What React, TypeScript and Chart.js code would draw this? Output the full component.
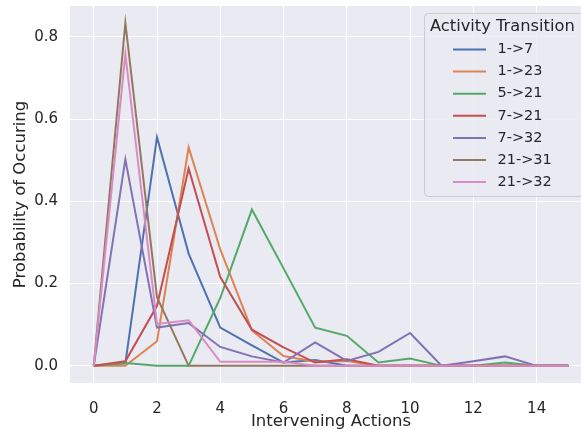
import React, { useEffect, useRef } from "react";
import { Chart, registerables } from "chart.js";

Chart.register(...registerables);

const actions = [0, 1, 2, 3, 4, 5, 6, 7, 8, 9, 10, 11, 12, 13, 14, 15];
const xTicks = [0, 2, 4, 6, 8, 10, 12, 14];
const yTicks = [0, 0.2, 0.4, 0.6, 0.8];

const seriesNames = ["1->7", "1->23", "5->21", "7->21", "7->32", "21->31", "21->32"];
const seriesColors = ["#4C72B0", "#DD8452", "#55A868", "#C44E52", "#8172B3", "#937860", "#DA8BC3"];

const s1to7 = [0, 0.006, 0.556, 0.273, 0.093, 0.05, 0.008, 0.014, 0, 0, 0, 0, 0, 0, 0, 0];
const s1to23 = [0, 0, 0.06, 0.531, 0.283, 0.086, 0.024, 0.01, 0.012, 0, 0, 0, 0, 0, 0, 0];
const s5to21 = [0, 0.007, 0, 0, 0.165, 0.38, 0.237, 0.093, 0.073, 0.008, 0.018, 0, 0, 0.008, 0, 0];
const s7to21 = [0, 0.011, 0.146, 0.48, 0.216, 0.088, 0.045, 0.008, 0.016, 0, 0, 0, 0, 0, 0, 0];
const s7to32 = [0, 0.502, 0.093, 0.104, 0.046, 0.023, 0.008, 0.057, 0.012, 0.034, 0.08, 0, 0.011, 0.023, 0, 0];
const s21to31 = [0, 0.834, 0.167, 0, 0, 0, 0, 0, 0, 0, 0, 0, 0, 0, 0, 0];
const s21to32 = [0, 0.758, 0.102, 0.111, 0.01, 0.01, 0.01, 0, 0, 0, 0, 0, 0, 0, 0, 0];

const allSeries = [s1to7, s1to23, s5to21, s7to21, s7to32, s21to31, s21to32];

const FONT = "'DejaVu Sans', sans-serif";
const TEXT = "#262626";

const legendPlugin = {
  id: "seabornLegend",
  afterDraw(chart: any) {
    const ctx = chart.ctx;
    ctx.save();
    const bx = 424.5, by = 13.5, bw = 162, bh = 183, r = 4;
    ctx.beginPath();
    ctx.moveTo(bx + r, by);
    ctx.lineTo(bx + bw - r, by);
    ctx.arcTo(bx + bw, by, bx + bw, by + r, r);
    ctx.lineTo(bx + bw, by + bh - r);
    ctx.arcTo(bx + bw, by + bh, bx + bw - r, by + bh, r);
    ctx.lineTo(bx + r, by + bh);
    ctx.arcTo(bx, by + bh, bx, by + bh - r, r);
    ctx.lineTo(bx, by + r);
    ctx.arcTo(bx, by, bx + r, by, r);
    ctx.closePath();
    ctx.fillStyle = "rgba(234,234,242,0.8)";
    ctx.fill();
    ctx.strokeStyle = "#CCCCCC";
    ctx.lineWidth = 1;
    ctx.stroke();

    ctx.fillStyle = TEXT;
    ctx.textBaseline = "middle";
    ctx.textAlign = "left";
    ctx.font = `16.3px ${FONT}`;
    ctx.fillText("Activity Transition", 430, 26.5);

    ctx.font = `14.5px ${FONT}`;
    seriesNames.forEach((name, i) => {
      const y = 49.5 + i * 22.1;
      ctx.strokeStyle = seriesColors[i];
      ctx.lineWidth = 2;
      ctx.beginPath();
      ctx.moveTo(453, y);
      ctx.lineTo(486, y);
      ctx.stroke();
      ctx.fillStyle = TEXT;
      ctx.fillText(name, 497.5, y);
    });
    ctx.restore();
  },
};

const bgPlugin = {
  id: "plotBg",
  beforeDraw(chart: any) {
    const { ctx, chartArea } = chart;
    ctx.save();
    ctx.fillStyle = "#EAEAF2";
    ctx.fillRect(chartArea.left, chartArea.top, chartArea.right - chartArea.left, chartArea.bottom - chartArea.top);
    ctx.restore();
  },
};

export default function App() {
  const ref = useRef<HTMLCanvasElement>(null);
  useEffect(() => {
    if (!ref.current) return;
    const chart = new Chart(ref.current, {
      type: "line",
      data: {
        datasets: allSeries.map((vals, i) => ({
          label: seriesNames[i],
          data: vals.map((v, j) => ({ x: actions[j], y: v })),
          borderColor: seriesColors[i],
          backgroundColor: seriesColors[i],
          borderWidth: 2,
          pointRadius: 0,
          tension: 0,
          fill: false,
          order: allSeries.length - 1 - i,
        })),
      },
      options: {
        animation: false,
        responsive: false,
        maintainAspectRatio: false,
        layout: { padding: { top: 6, left: 0, right: 8, bottom: 0 } },
        plugins: { legend: { display: false }, tooltip: { enabled: false } },
        scales: {
          x: {
            type: "linear",
            min: -0.75,
            max: 15.75,
            afterBuildTicks: (s: any) => {
              s.ticks = xTicks.map((v) => ({ value: v }));
            },
            afterFit: (s: any) => {
              s.height = 46;
              s.paddingLeft = 0;
              s.paddingRight = 0;
            },
            grid: { color: "#FFFFFF", lineWidth: 1, drawTicks: false },
            border: { display: false },
            ticks: {
              color: TEXT,
              font: { family: FONT, size: 15 },
              padding: 17,
              maxRotation: 0,
              callback: (v: any) => String(v),
            },
            title: {
              display: true,
              text: "Intervening Actions",
              color: TEXT,
              font: { family: FONT, size: 16.5, lineHeight: 1 },
              padding: { top: 0, bottom: -1 },
            },
          },
          y: {
            type: "linear",
            min: -0.0417,
            max: 0.875,
            afterBuildTicks: (s: any) => {
              s.ticks = yTicks.map((v) => ({ value: v }));
            },
            afterFit: (s: any) => {
              s.width = 70;
              s.paddingTop = 0;
              s.paddingBottom = 0;
            },
            grid: { color: "#FFFFFF", lineWidth: 1, drawTicks: false },
            border: { display: false },
            ticks: {
              color: TEXT,
              font: { family: FONT, size: 15 },
              padding: 12,
              callback: (v: any) => Number(v).toFixed(1),
            },
            title: {
              display: true,
              text: "Probability of Occuring",
              color: TEXT,
              font: { family: FONT, size: 16.5, lineHeight: 1 },
              padding: { top: 12, bottom: 0 },
            },
          },
        },
      },
      plugins: [bgPlugin, legendPlugin],
    });
    return () => chart.destroy();
  }, []);
  return (
    <div style={{ position: "fixed", left: 0, top: 0, width: 581, height: 429, overflow: "hidden", background: "#FFFFFF" }}>
      <canvas ref={ref} width={600} height={429} style={{ width: 600, height: 429, display: "block" }} />
    </div>
  );
}
